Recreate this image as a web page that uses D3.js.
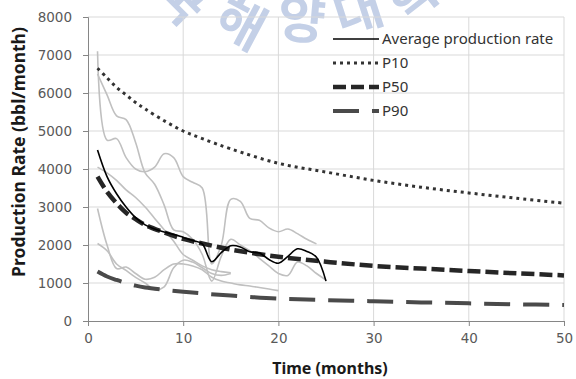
<!DOCTYPE html>
<html>
<head>
<meta charset="utf-8">
<script src="https://cdn.jsdelivr.net/npm/d3@7"></script>
<style>
  body { margin: 0; background: #fff; }
  svg { display: block; }
</style>
</head>
<body>
<svg id="chart"></svg>
<script>
// Type curves (months, bbl/month)
const pMonths = [1, 2, 3, 4, 5, 6, 8, 10, 12, 15, 20, 25, 30, 35, 40, 45, 50];
const p10 = [6650, 6400, 6150, 5950, 5750, 5580, 5270, 5000, 4800, 4530, 4150, 3920, 3700, 3520, 3370, 3230, 3100];
const p50 = [3800, 3400, 3100, 2850, 2680, 2530, 2330, 2160, 2040, 1880, 1690, 1560, 1450, 1380, 1315, 1255, 1200];
const p90 = [1300, 1170, 1080, 1000, 930, 880, 820, 770, 725, 670, 590, 550, 520, 490, 465, 440, 420];

// Average production rate, months 1..25
const avgRate = [4500, 3800, 3350, 3000, 2720, 2530, 2420, 2340, 2280, 2200, 2120, 2030, 1560, 1800, 1980,
                 1950, 1820, 1790, 1620, 1520, 1700, 1900, 1830, 1680, 1050];

// Individual wells, each starting at month 1
const well1 = [7100, 4760, 4800, 4300, 4000, 3930, 4050, 4400, 4300, 3800, 3650, 3500, 1500, 2000, 3200,
               3150, 2700, 2650, 2450, 2350, 2420, 2300, 2150, 2030];
const well2 = [6500, 5950, 5400, 5300, 4700, 3900, 3600, 3050, 2400, 2350, 2150, 1750, 1050, 1700, 2150,
               2000, 1850, 1650, 1450, 1250, 1200, 1550, 1450, 1250, 1080];
const well3 = [4050, 3900, 3700, 3450, 3250, 3000, 2700, 2400, 2100, 1750, 1600, 1450, 1350, 1300, 1270];
const well4 = [2960, 2000, 1380, 1420, 1250, 1100, 1150, 1350, 1500, 1500, 1450, 1350, 1150, 1050, 1000,
               950, 920, 880, 840, 800];
const well5 = [2040, 1850, 1500, 1330, 1150, 1000, 830, 900, 1400, 1600, 1550, 1400, 1250, 1200, 1250];
const wells = [well1, well2, well3, well4, well5];

const xTicks = [0, 10, 20, 30, 40, 50];
const yTicks = [0, 1000, 2000, 3000, 4000, 5000, 6000, 7000, 8000];

const legendItems = [
  { label: "Average production rate", key: "avg" },
  { label: "P10", key: "p10" },
  { label: "P50", key: "p50" },
  { label: "P90", key: "p90" }
];

const styles = {
  avg: { stroke: "#000", width: 1.6, dash: null },
  p10: { stroke: "#333", width: 3, dash: "3,4" },
  p50: { stroke: "#262626", width: 4.5, dash: "13,5" },
  p90: { stroke: "#4a4a4a", width: 4, dash: "26,13" }
};

const width = 576, height = 379;
const svg = d3.select("#chart").attr("width", width).attr("height", height);

// Watermark fragment of a seal at the top
const mark = svg.append("g").attr("fill", "#c4d0e7").attr("font-family", "Noto Sans CJK KR")
  .attr("font-weight", "bold").attr("font-size", 52).attr("text-anchor", "middle");
[["국", 168, 12, 45], ["해", 232, 40, 28], ["양", 300, 38, 5], ["대", 364, 28, -18], ["학", 424, 10, -38]]
  .forEach(([ch, x, y, r]) => {
    mark.append("text").attr("transform", `translate(${x},${y}) rotate(${r})`).text(ch);
  });

const x = d3.scaleLinear().domain([0, 50]).range([88, 564]);
const y = d3.scaleLinear().domain([0, 8000]).range([321, 17]);

// Gridlines
svg.append("g").selectAll("line").data(yTicks.slice(1)).enter().append("line")
  .attr("x1", x(0)).attr("x2", x(50)).attr("y1", d => y(d)).attr("y2", d => y(d))
  .attr("stroke", "#d9d9d9").attr("stroke-width", 1);
svg.append("g").selectAll("line").data(xTicks.slice(1)).enter().append("line")
  .attr("x1", d => x(d)).attr("x2", d => x(d)).attr("y1", y(0)).attr("y2", y(8000))
  .attr("stroke", "#d9d9d9").attr("stroke-width", 1);

// Axes
const xAxis = svg.append("g").attr("transform", `translate(0,${y(0)})`)
  .call(d3.axisBottom(x).tickValues(xTicks).tickSize(5).tickPadding(7));
const yAxis = svg.append("g").attr("transform", `translate(${x(0)},0)`)
  .call(d3.axisLeft(y).tickValues(yTicks).tickSize(5).tickPadding(11).tickFormat(d3.format("d")));
[xAxis, yAxis].forEach(a => {
  a.select(".domain").attr("stroke", "#868686");
  a.selectAll(".tick line").attr("stroke", "#868686");
  a.selectAll(".tick text").attr("fill", "#595959").attr("font-family", "DejaVu Sans").attr("font-size", 13.5);
});

const line = (xs, ys) => d3.line()
  .x((d, i) => x(xs[i])).y(d => y(d))
  .curve(d3.curveCatmullRom.alpha(0.5))(ys);
const monthsFor = arr => arr.map((d, i) => i + 1);

// Individual wells
svg.append("g").selectAll("path").data(wells).enter().append("path")
  .attr("d", d => line(monthsFor(d), d))
  .attr("fill", "none").attr("stroke", "#c0c0c0").attr("stroke-width", 1.6);

function drawCurve(key, xs, ys) {
  const s = styles[key];
  svg.append("path").attr("d", line(xs, ys))
    .attr("fill", "none").attr("stroke", s.stroke).attr("stroke-width", s.width)
    .attr("stroke-dasharray", s.dash);
}
drawCurve("p90", pMonths, p90);
drawCurve("p50", pMonths, p50);
drawCurve("p10", pMonths, p10);
drawCurve("avg", monthsFor(avgRate), avgRate);

// Legend
const legend = svg.append("g").attr("transform", "translate(333,39)");
legendItems.forEach((item, i) => {
  const s = styles[item.key];
  const g = legend.append("g").attr("transform", `translate(0,${i * 24})`);
  g.append("line").attr("x1", 0).attr("x2", 46).attr("y1", 0).attr("y2", 0)
    .attr("stroke", s.stroke).attr("stroke-width", s.width).attr("stroke-dasharray", s.dash);
  g.append("text").attr("x", 49).attr("y", 0).attr("dy", "0.36em")
    .attr("font-family", "Noto Sans").attr("font-size", 15).attr("fill", "#333")
    .text(item.label);
});

// Axis titles
svg.append("text").attr("x", 330).attr("y", 374).attr("text-anchor", "middle")
  .attr("font-family", "Noto Sans").attr("font-weight", "bold").attr("font-size", 16).attr("fill", "#1a1a1a")
  .text("Time (months)");
svg.append("text").attr("transform", "translate(25,152) rotate(-90)").attr("text-anchor", "middle")
  .attr("font-family", "Noto Sans").attr("font-weight", "bold").attr("font-size", 17.5).attr("fill", "#1a1a1a")
  .text("Production Rate (bbl/month)");
</script>
</body>
</html>
